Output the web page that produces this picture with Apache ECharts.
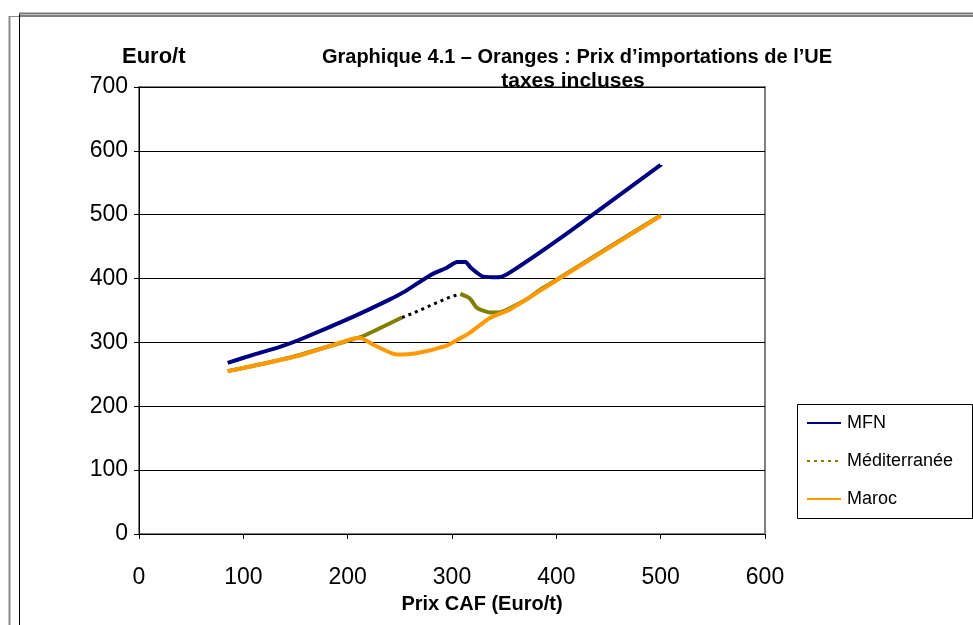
<!DOCTYPE html>
<html>
<head>
<meta charset="utf-8">
<title>Graphique 4.1</title>
<script src="https://cdn.jsdelivr.net/npm/echarts@6/dist/echarts.min.js"></script>
<style>
  html, body { margin: 0; padding: 0; background: #fff; }
  #chart { width: 973px; height: 625px; }
</style>
</head>
<body>
<div id="chart"></div>
<script>
// valeurs : [prix CAF, prix taxes incluses]
var mfnData = [
  [85, 268], [110, 281], [135, 293], [155, 305], [205, 340], [240, 367],
  [255, 380], [280, 406], [295, 417], [305, 426], [313, 426], [318, 417],
  [330, 403], [345, 402], [356, 410], [413, 474], [500, 578]
];
var medData = [
  [85, 255], [120, 267], [155, 281], [205, 305], [215, 310], [252, 339],
  null,
  [308, 376], [317, 369], [324, 354], [336, 347], [345, 347], [356, 354],
  [370, 366], [386, 384], [400, 398], [500, 499]
];
// portion en pointillés (noire) de la courbe Méditerranée
var medGapData = [[252, 339], [263, 346], [281, 359], [298, 371], [308, 376]];
var marocData = [
  [85, 255], [120, 267], [155, 280], [205, 306], [212, 307], [225, 296],
  [247, 281], [266, 283], [295, 295], [305, 304], [317, 315], [336, 338],
  [356, 352], [400, 397], [500, 498]
];

var xTicks = [0, 100, 200, 300, 400, 500, 600];
var yTicks = [0, 100, 200, 300, 400, 500, 600, 700];
var seriesNames = ['MFN', 'Méditerranée', 'Maroc'];

var font = "'Liberation Sans', Arial, sans-serif";
var myChart = echarts.init(document.getElementById('chart'));

var option = {
    animation: false,
    backgroundColor: '#fff',
    title: [
        {
            text: 'Graphique 4.1 – Oranges : Prix d\u2019importations de l\u2019UE',
            left: 572, top: 42, textAlign: 'center',
            textStyle: { fontFamily: font, fontSize: 20, fontWeight: 'bold', color: '#000' }
        },
        {
            text: 'taxes incluses',
            left: 568, top: 66, textAlign: 'center',
            textStyle: { fontFamily: font, fontSize: 21, fontWeight: 'bold', color: '#000' }
        },
        {
            text: 'Euro/t',
            left: 117, top: 41,
            textStyle: { fontFamily: font, fontSize: 22, fontWeight: 'bold', color: '#000' }
        },
        {
            text: 'Prix CAF (Euro/t)',
            left: 477, top: 589, textAlign: 'center',
            textStyle: { fontFamily: font, fontSize: 20, fontWeight: 'bold', color: '#000' }
        }
    ],
    graphic: [
        // cadre de la zone du graphique
        { type: 'line', shape: { x1: 9.5, y1: 16, x2: 9.5, y2: 625 }, style: { stroke: '#888', lineWidth: 2 } },
        { type: 'line', shape: { x1: 9.5, y1: 16.5, x2: 19, y2: 16.5 }, style: { stroke: '#888', lineWidth: 1 } },
        { type: 'line', shape: { x1: 19.5, y1: 13, x2: 19.5, y2: 625 }, style: { stroke: '#000', lineWidth: 1 } },
        { type: 'line', shape: { x1: 19, y1: 13.5, x2: 973, y2: 13.5 }, style: { stroke: '#777', lineWidth: 2 } },
        { type: 'line', shape: { x1: 19, y1: 16, x2: 973, y2: 16 }, style: { stroke: '#000', lineWidth: 1 } },
        // cadre de la légende
        {
            type: 'rect', z: 10,
            shape: { x: 797.5, y: 404.5, width: 175, height: 114 },
            style: { fill: '#fff', stroke: '#000', lineWidth: 1 }
        }
    ],
    legend: {
        data: [
            { name: 'MFN' },
            { name: 'Méditerranée', lineStyle: { type: [3, 4], color: '#808000', width: 2 } },
            { name: 'Maroc' }
        ],
        orient: 'vertical',
        left: 801, top: 409,
        itemWidth: 34, itemHeight: 14, itemGap: 20,
        z: 20,
        lineStyle: { width: 2 },
        itemStyle: { opacity: 0, borderWidth: 0 },
        textStyle: { fontFamily: font, fontSize: 18, color: '#000', padding: [0, 0, 0, 1] }
    },
    grid: {
        left: 139, right: 208, top: 87, bottom: 91,
        show: true, borderColor: '#808080', borderWidth: 2
    },
    xAxis: {
        type: 'value', min: 0, max: 600, interval: 100,
        axisLine: { onZero: false, lineStyle: { color: '#000', width: 1 } },
        axisTick: { show: true, length: 5, lineStyle: { color: '#000' } },
        axisLabel: {
            margin: 32, fontFamily: font, fontSize: 23, color: '#000',
            formatter: function (v) { return xTicks.indexOf(v) >= 0 ? String(v) : ''; }
        },
        splitLine: { show: false }
    },
    yAxis: {
        type: 'value', min: 0, max: 700, interval: 100,
        axisLine: { show: true, lineStyle: { color: '#000', width: 1 } },
        axisTick: { show: true, length: 5, lineStyle: { color: '#000' } },
        axisLabel: {
            margin: 11, fontFamily: font, fontSize: 23, color: '#000',
            formatter: function (v) { return yTicks.indexOf(v) >= 0 ? String(v) : ''; }
        },
        splitLine: { show: true, lineStyle: { color: '#000', width: 1 } }
    },
    series: [
        {
            name: seriesNames[0], type: 'line', data: mfnData,
            symbol: 'none', smooth: 0.2,
            lineStyle: { color: '#000080', width: 4 }, itemStyle: { color: '#000080' }
        },
        {
            name: seriesNames[1], type: 'line', data: medData,
            symbol: 'none', smooth: 0.2, connectNulls: false,
            lineStyle: { color: '#808000', width: 4 }, itemStyle: { color: '#808000' }
        },
        {
            name: 'medGap', type: 'line', data: medGapData,
            symbol: 'none',
            lineStyle: { color: '#000', width: 3, type: [3, 4] }
        },
        {
            name: seriesNames[2], type: 'line', data: marocData,
            symbol: 'none', smooth: 0.2,
            lineStyle: { color: '#FF9900', width: 4 }, itemStyle: { color: '#FF9900' }
        }
    ]
};

try {
    myChart.setOption(option);
} catch (e) {
    console.log(e);
}
</script>
</body>
</html>
